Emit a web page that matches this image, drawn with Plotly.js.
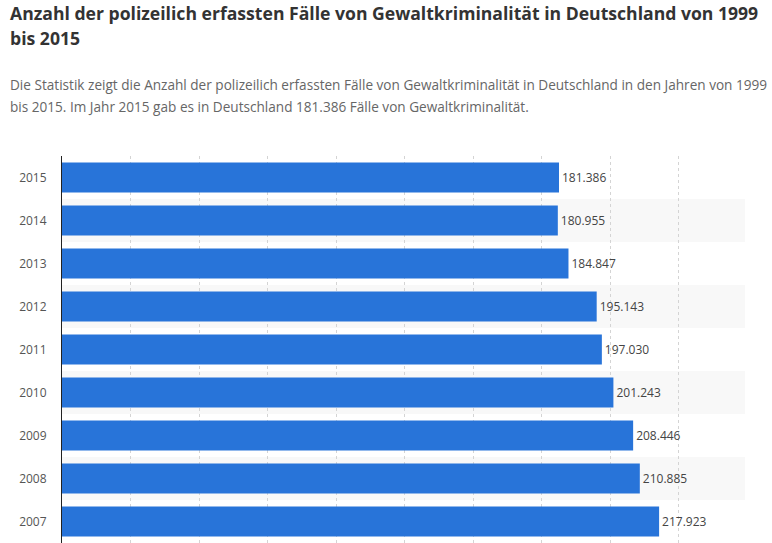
<!DOCTYPE html>
<html>
<head>
<meta charset="utf-8">
<script src="https://cdn.plot.ly/plotly-3.0.1.min.js"></script>
<style>
html,body{margin:0;padding:0;background:#fff;}
#chart{width:772px;height:543px;}
</style>
</head>
<body>
<div id="chart"></div>
<script>
// Data (top to bottom as shown)
const years = ['2015','2014','2013','2012','2011','2010','2009','2008','2007'];
const cases = [181386, 180955, 184847, 195143, 197030, 201243, 208446, 210885, 217923];

const titleLine1 = 'Anzahl der polizeilich erfassten Fälle von Gewaltkriminalität in Deutschland von 1999';
const titleLine2 = 'bis 2015';
const subLine1 = 'Die Statistik zeigt die Anzahl der polizeilich erfassten Fälle von Gewaltkriminalität in Deutschland in den Jahren von 1999';
const subLine2 = 'bis 2015. Im Jahr 2015 gab es in Deutschland 181.386 Fälle von Gewaltkriminalität.';

const sans = '"Open Sans", sans-serif';

const shapes = [];
years.forEach((y, i) => {
  if (i % 2 === 1) {
    shapes.push({
      type: 'rect', xref: 'paper', yref: 'y', layer: 'below',
      x0: 0, x1: 0.997, y0: i - 0.5, y1: i + 0.5,
      fillcolor: '#f8f8f8', line: {width: 0}
    });
  }
});

const trace = {
  type: 'bar',
  orientation: 'h',
  y: years.map((y, i) => i),
  x: cases,
  width: 0.7,
  marker: {color: '#2874d9'},
  texttemplate: '%{x:,}',
  textposition: 'outside',
  cliponaxis: false,
  textfont: {family: sans, size: 12, color: '#444'},
  hoverinfo: 'none'
};

const L = 62, W = 685;
function px(x){ return (x - L) / W; }

const layout = {
  width: 772, height: 543,
  margin: {l: 62, r: 25, t: 156, b: 0, pad: 0},
  paper_bgcolor: '#fff', plot_bgcolor: 'rgba(0,0,0,0)',
  separators: ',.',
  showlegend: false,
  xaxis: {
    range: [0, 250000], dtick: 25000, tick0: 0,
    showgrid: true, gridcolor: '#d4d4d4', griddash: 'dot', gridwidth: 1,
    showticklabels: false, zeroline: false, showline: false, ticks: '',
    fixedrange: true
  },
  yaxis: {
    range: [years.length - 0.5, -0.5],
    tickmode: 'array', tickvals: years.map((y, i) => i), ticktext: years,
    tickfont: {family: sans, size: 12, color: '#555'},
    ticks: '', ticklen: 0, ticklabelstandoff: 12,
    showline: true, linecolor: '#222', linewidth: 1,
    showgrid: false, zeroline: false, fixedrange: true
  },
  shapes: shapes,
  annotations: [
    {text: '<b>' + titleLine1 + '</b>', xref: 'paper', yref: 'paper', x: px(8), y: 1, yshift: 156 + 1, xanchor: 'left', yanchor: 'top', showarrow: false,
     font: {family: sans, size: 17.6, color: '#333'}},
    {text: '<b>' + titleLine2 + '</b>', xref: 'paper', yref: 'paper', x: px(8), y: 1, yshift: 156 - 24, xanchor: 'left', yanchor: 'top', showarrow: false,
     font: {family: sans, size: 17.6, color: '#333'}},
    {text: subLine1, xref: 'paper', yref: 'paper', x: px(8), y: 1, yshift: 156 - 73, xanchor: 'left', yanchor: 'top', showarrow: false,
     font: {family: sans, size: 13.6, color: '#666'}},
    {text: subLine2, xref: 'paper', yref: 'paper', x: px(8), y: 1, yshift: 156 - 95, xanchor: 'left', yanchor: 'top', showarrow: false,
     font: {family: sans, size: 13.6, color: '#666'}}
  ]
};

Plotly.newPlot('chart', [trace], layout, {displayModeBar: false, staticPlot: true});
</script>
</body>
</html>
